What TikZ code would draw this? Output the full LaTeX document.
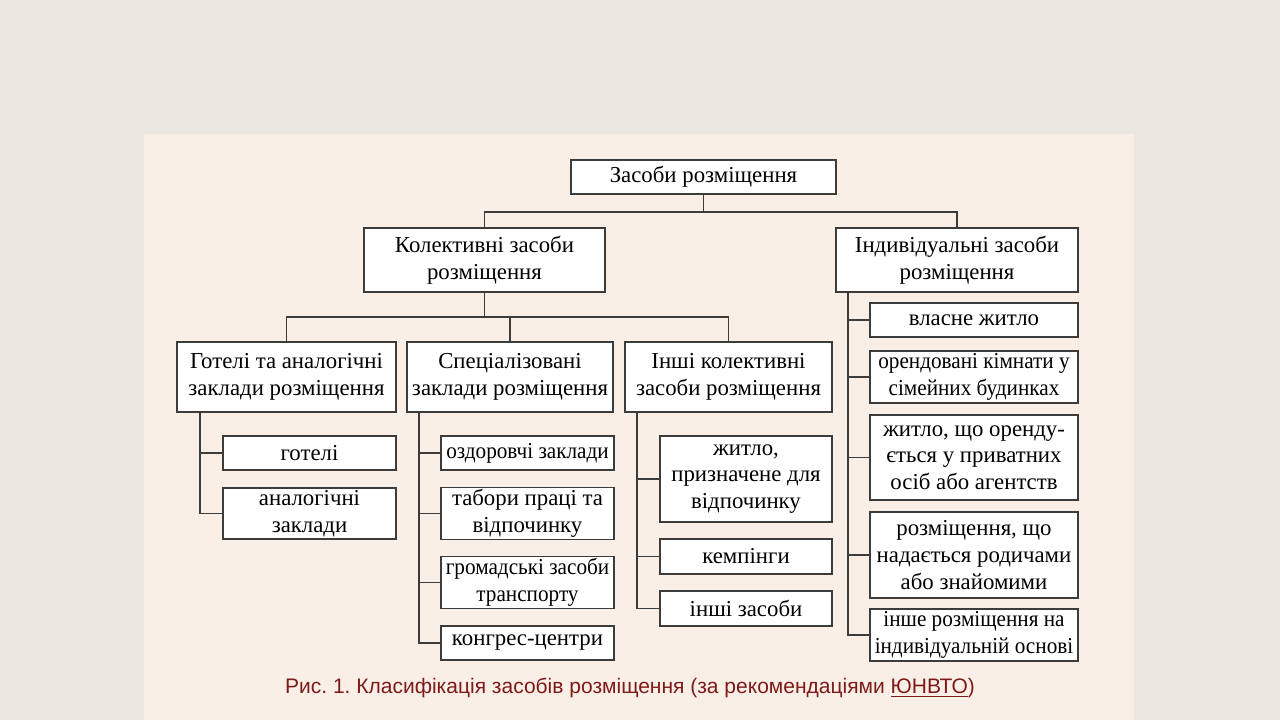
\documentclass[tikz,border=0pt]{standalone}
\usepackage{fontspec}
\setmainfont{Liberation Serif}
\newfontfamily\capfont{Liberation Sans}
\newfontfamily\narrowfont[FakeStretch=0.93]{Liberation Serif}
\usepackage{tikz}
\usetikzlibrary{positioning,calc}
\frenchspacing

\definecolor{outerbg}{RGB}{236,232,225}
\definecolor{panelbg}{RGB}{250,239,230}
\definecolor{lineclr}{RGB}{60,60,60}
\definecolor{capred}{RGB}{125,26,26}

\begin{document}
\begin{tikzpicture}[x=0.5pt, y=-0.5pt,
          box/.style={draw=lineclr, line width=0.9pt, fill=white, align=center,
                      inner xsep=0.5pt, inner ysep=1pt, font=\fontsize{11.4}{13.3}\selectfont},
          narrowbox/.style={box, font=\narrowfont\fontsize{11.4}{13.3}\selectfont},
          link/.style={lineclr, line width=0.85pt}
        ]
          % Hintergrund
          \fill[outerbg] (0,0) rectangle (1280,720);
          \fill[panelbg] (144,134) rectangle (1134,720);
          \useasboundingbox (0,0) rectangle (1280,720);

          % Ebene 1 und 2
          \node[box, minimum width=132.5pt, minimum height=17pt] (top) at (703.5,177) {Засоби розміщення};
          \node[box, minimum width=120.5pt, minimum height=32pt] (coll) at (484.5,260) {Колективні засоби\\розміщення};
          \node[box, minimum width=121pt, minimum height=32pt] (ind) at (957,260) {Індивідуальні засоби\\розміщення};

          % Ebene 3
          \node[box, minimum width=109.5pt, minimum height=35pt] (hot) at (286.5,377) {Готелі та аналогічні\\заклади розміщення};
          \node[box, minimum width=103pt, minimum height=35pt] (spec) at (510,377) {Спеціалізовані\\заклади розміщення};
          \node[box, minimum width=103.5pt, minimum height=35pt] (oth) at (728.5,377) {Інші колективні\\засоби розміщення};

          % Готелі
          \node[box, minimum width=86.5pt, minimum height=17pt] (hot1) at (309.5,453) {готелі};
          \node[box, minimum width=86.5pt, minimum height=25.5pt] (hot2) at (309.5,513.5) {аналогічні\\заклади};

          % Спеціалізовані
          \node[narrowbox, minimum width=86.5pt, minimum height=17pt] (spec1) at (527.5,453) {оздоровчі заклади};
          \node[box, minimum width=86.5pt, minimum height=25.5pt] (spec2) at (527.5,513.5) {табори праці та\\відпочинку};
          \node[narrowbox, minimum width=86.5pt, minimum height=25.5pt] (spec3) at (527.5,582.5) {громадські засоби\\транспорту};
          \node[box, minimum width=86.5pt, minimum height=17pt] (spec4) at (527.5,643) {конгрес-центри};

          % Інші колективні
          \node[box, minimum width=86pt, minimum height=43pt] (oth1) at (746,479) {житло,\\призначене для\\відпочинку};
          \node[box, minimum width=86pt, minimum height=17.5pt] (oth2) at (746,556.5) {кемпінги};
          \node[box, minimum width=86pt, minimum height=17.5pt] (oth3) at (746,608.5) {інші засоби};

          % Індивідуальні
          \node[box, minimum width=104pt, minimum height=17pt] (ind1) at (974,320) {власне житло};
          \node[narrowbox, minimum width=104pt, minimum height=26pt] (ind2) at (974,377) {орендовані кімнати у\\сімейних будинках};
          \node[box, minimum width=104pt, minimum height=42.5pt] (ind3) at (974,457.5) {житло, що оренду-\\ється у приватних\\осіб або агентств};
          \node[box, minimum width=104pt, minimum height=43pt] (ind4) at (974,555) {розміщення, що\\надається родичами\\або знайомими};
          \node[narrowbox, minimum width=104pt, minimum height=26pt] (ind5) at (974,635) {інше розміщення на\\індивідуальній основі};

          % Verbindungen oben
          \coordinate (jA) at (703.5,212);
          \coordinate (jB) at (484.5,317);
          \draw[link] (top.south) -- (jA);
          \draw[link] (coll.north) |- (jA) -| (ind.north);
          \draw[link] (coll.south) -- (jB);
          \draw[link] (hot.north) |- (jB) -| (oth.north);
          \draw[link] (spec.north) -- (spec.north |- jB);

          % Stämme
          \coordinate (tHot) at (200,412);
          \coordinate (tSpec) at (419,412);
          \coordinate (tOth) at (637,412);
          \coordinate (tInd) at (848,292);
          \foreach \c in {hot1,hot2}  {\draw[link] (tHot) |- (\c.west);}
          \foreach \c in {spec1,spec2,spec3,spec4} {\draw[link] (tSpec) |- (\c.west);}
          \foreach \c in {oth1,oth2,oth3} {\draw[link] (tOth) |- (\c.west);}
          \foreach \c in {ind1,ind2,ind3,ind4,ind5} {\draw[link] (tInd) |- (\c.west);}

          % Unterschrift
          \node[text=capred, font=\capfont\fontsize{10.5}{12}\selectfont] (cap) at (630,688)
            {Рис. 1. Класифікація засобів розміщення (за рекомендаціями \underline{ЮНВТО})};
        \end{tikzpicture}
\end{document}
